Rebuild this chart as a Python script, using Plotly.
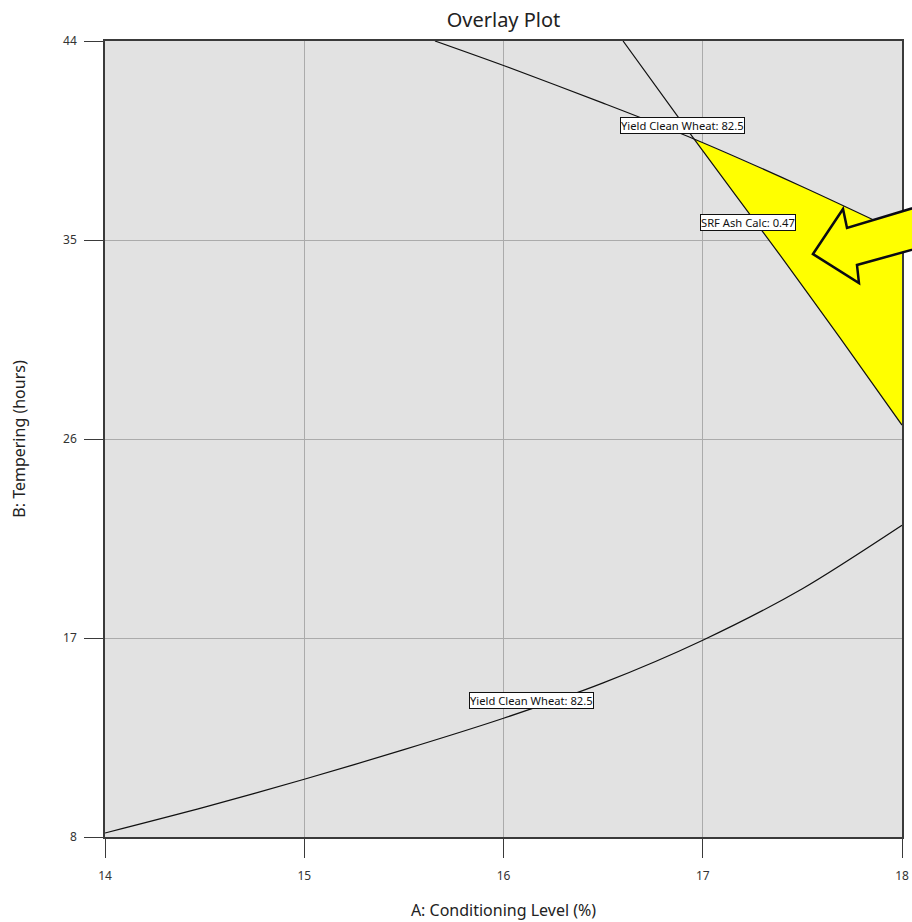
import plotly.graph_objects as go

# --- data ---
x_range = [14, 18]
y_range = [8, 44]
x_ticks = [14, 15, 16, 17, 18]
y_ticks = [8, 17, 26, 35, 44]

# Upper "Yield Clean Wheat: 82.5" contour
upper_yield_x = [15.656, 16.0, 16.5, 16.956, 17.5, 18.0]
upper_yield_y = [44.0, 42.89, 41.19, 39.57, 37.41, 35.30]

# "SRF Ash Calc: 0.47" contour
srf_x = [16.60, 16.956, 17.388, 17.689, 18.0]
srf_y = [44.0, 39.57, 34.32, 30.57, 26.63]

# Lower "Yield Clean Wheat: 82.5" contour
lower_yield_x = [14.0, 14.5, 15.0, 15.5, 16.0, 16.5, 17.0, 17.5, 18.0]
lower_yield_y = [8.18, 9.35, 10.61, 11.95, 13.37, 14.97, 16.90, 19.23, 22.10]

# Contour labels: (text, x, y)
labels = [
    ("Yield Clean Wheat: 82.5", 16.90, 40.20),
    ("SRF Ash Calc: 0.47", 17.227, 35.81),
    ("Yield Clean Wheat: 82.5", 16.143, 14.19),
]

# Sweet-spot (yellow) region: along upper yield from the intersection, down the right edge, back along SRF
i0 = upper_yield_x.index(16.956)
j0 = srf_x.index(16.956)
region_x = upper_yield_x[i0:] + srf_x[j0:][::-1]
region_y = upper_yield_y[i0:] + srf_y[j0:][::-1]

fig = go.Figure()

fig.add_trace(go.Scatter(
    x=region_x, y=region_y, mode="lines", fill="toself",
    fillcolor="#ffff00", line=dict(color="rgba(0,0,0,0)", width=0),
    hoverinfo="skip", showlegend=False))

for xs, ys in [(upper_yield_x, upper_yield_y), (srf_x, srf_y), (lower_yield_x, lower_yield_y)]:
    fig.add_trace(go.Scatter(
        x=xs, y=ys, mode="lines", line=dict(color="#111111", width=1.2, shape="spline", smoothing=0.8),
        hoverinfo="skip", showlegend=False))

for text, lx, ly in labels:
    fig.add_annotation(x=lx, y=ly, text=text, showarrow=False,
                       font=dict(family="Noto Sans", size=11.2, color="#111111"),
                       bgcolor="white", bordercolor="#111111", borderwidth=1, borderpad=0)

# Hand-drawn style yellow arrow (paper coordinates; extends past the right edge)
L, R, T, B = 105, 902, 41, 837
def px(xp, yp):
    return (xp - L) / (R - L), (B - yp) / (B - T)
arrow_px = [(813, 254), (843, 209), (847, 228), (940, 200), (940, 242), (857, 265), (859, 283)]
pts = [px(a, b) for a, b in arrow_px]
path = "M " + " L ".join(f"{a:.4f},{b:.4f}" for a, b in pts) + " Z"
fig.add_shape(type="path", path=path, xref="paper", yref="paper",
              fillcolor="#ffff00", line=dict(color="#0a0a14", width=2.5), layer="above")

axis_common = dict(
    showgrid=True, gridcolor="#ababab", gridwidth=1,
    showline=True, linecolor="#3a3a3a", linewidth=1.5, mirror=True,
    ticks="outside", ticklen=19, tickcolor="#3a3a3a", tickwidth=1,
    tickfont=dict(family="Noto Sans", size=12, color="#333333"),
    zeroline=False, automargin=False,
)

fig.update_xaxes(range=x_range, tickvals=x_ticks, ticklabelstandoff=8,
                 title=dict(text="A: Conditioning Level (%)", font=dict(family="Noto Sans", size=16, color="#222222"), standoff=22),
                 **axis_common)
fig.update_yaxes(range=y_range, tickvals=y_ticks, ticklabelstandoff=5,
                 title=dict(text="B: Tempering (hours)", font=dict(family="Noto Sans", size=16, color="#222222"), standoff=34),
                 **axis_common)

fig.update_layout(
    width=912, height=922,
    margin=dict(l=105, r=10, t=41, b=85, autoexpand=False),
    paper_bgcolor="white", plot_bgcolor="#e2e2e2",
    title=dict(text="Overlay Plot", x=0.5, xref="paper", xanchor="center", y=0.978, yanchor="middle",
               font=dict(family="Noto Sans", size=20, color="#222222")),
)

fig.write_html("out.html")
